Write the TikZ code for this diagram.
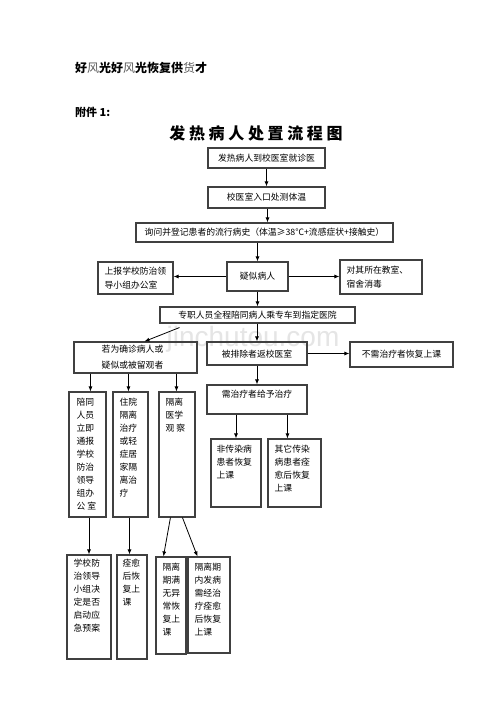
\documentclass[tikz,border=0pt]{standalone}
\usepackage{fontspec}
\newfontfamily\cjk{Noto Sans CJK SC}
\newfontfamily\wmfont{Liberation Sans}
\usetikzlibrary{arrows.meta,fit}
\newcommand\bx[5]{\path (#2,#3) coordinate (#1-nw) (#4,#5) coordinate (#1-se); \node[box,fit=(#1-nw)(#1-se)] (#1) {};}
\begin{document}
\begin{tikzpicture}[x=1pt,y=-1pt,
 box/.style={draw=black!75,line width=1.1pt,inner sep=0pt},
 arr/.style={draw=black,line width=0.8pt,-{Latex[length=5pt,width=4pt]}},
 txt/.style={font=\cjk\fontsize{8.8}{13}\selectfont,inner sep=0pt,align=left,anchor=north west},
 ctxt/.style={font=\cjk\fontsize{8.8}{16}\selectfont,inner sep=0pt,align=center},
 ltxt/.style={font=\cjk\fontsize{8.8}{14}\selectfont,inner sep=0pt,align=left,anchor=west}]
\useasboundingbox (0,0) rectangle (500,708);
\fill[white] (0,0) rectangle (500,708);
% watermark
\node[font=\wmfont\fontsize{28}{30}\selectfont,text=black!10,inner sep=0pt] (wm) at (253,339) {jinchutou.com};
% header
\node[font=\cjk\bfseries\fontsize{12}{14}\selectfont,anchor=west,inner sep=0pt] (hd) at (75,68) {好{\mdseries\color{black!65}风}光好{\mdseries\color{black!65}风}光恢复供{\mdseries\color{black!65}货}才};
\node[font=\cjk\bfseries\fontsize{11}{14}\selectfont,anchor=west,inner sep=0pt] (fj) at (75,112) {附件 1:};
\node[font=\cjk\bfseries\fontsize{16}{18}\selectfont,inner sep=0pt] (title) at (256,133) {发 热 病 人 处 置 流 程 图};
% boxes
\bx{b1}{208}{148}{325}{168}
\bx{b2}{208}{187}{325}{208}
\bx{b3}{136}{223}{393}{242}
\bx{ys}{227}{262}{288}{291}
\bx{rep}{98}{262}{173}{294}
\bx{xd}{340}{260}{422}{294}
\bx{zz}{160}{307}{355}{323}
\bx{ruo}{74}{342}{197}{373}
\bx{pc}{207}{342}{307}{365}
\bx{bx}{350}{342}{453}{367}
\bx{A}{69}{392}{106}{517}
\bx{B}{113}{392}{148}{517}
\bx{C}{159}{392}{195}{517}
\bx{xz}{207}{385}{307}{414}
\bx{D}{211}{439}{261}{507}
\bx{E}{268}{439}{321}{507}
\bx{F}{67}{555}{111}{659}
\bx{G}{117}{555}{147}{659}
\bx{H}{156}{557}{186}{654}
\bx{I}{188}{557}{230}{653}
% texts
\node[ctxt] (b1t) at (b1) {发热病人到校医室就诊医};
\node[ctxt] (b2t) at (b2) {校医室入口处测体温};
\node[ctxt] (b3t) at (b3) {询问并登记患者的流行病史（体温≥38℃+流感症状+接触史）};
\node[ctxt] (yst) at (ys) {疑似病人};
\node[ltxt] (rept) at ([xshift=7pt]rep.west) {上报学校防治领\\导小组办公室};
\node[ltxt] (xdt) at ([xshift=7pt]xd.west) {对其所在教室、\\宿舍消毒};
\node[ctxt] (zzt) at (zz) {专职人员全程陪同病人乘专车到指定医院};
\node[ctxt] (ruot) at ([xshift=-3pt]ruo) {若为确诊病人或\\疑似或被留观者};
\node[ctxt] (pct) at ([yshift=-1pt]pc) {被排除者返校医室};
\node[ctxt] (bxt) at (bx) {不需治疗者恢复上课};
\node[ctxt,anchor=north] (xzt) at ([yshift=-5pt]xz.north) {需治疗者给予治疗};
\node[txt] (At) at ([shift={(8,6)}]A.north west) {陪同\\人员\\立即\\通报\\学校\\防治\\领导\\组办\\公 室};
\node[txt] (Bt) at ([shift={(7,6)}]B.north west) {住院\\隔离\\治疗\\或轻\\症居\\家隔\\离治\\疗};
\node[txt] (Ct) at ([shift={(7,6)}]C.north west) {隔离\\医学\\观 察};
\node[txt] (Dt) at ([shift={(6,6)}]D.north west) {非传染病\\患者恢复\\上课};
\node[txt] (Et) at ([shift={(7,6)}]E.north west) {其它传染\\病患者痊\\愈后恢复\\上课};
\node[txt] (Ft) at ([shift={(7,4)}]F.north west) {学校防\\治领导\\小组决\\定是否\\启动应\\急预案};
\node[txt] (Gt) at ([shift={(6,4)}]G.north west) {痊愈\\后恢\\复上\\课};
\node[txt] (Ht) at ([shift={(7,6)}]H.north west) {隔离\\期满\\无异\\常恢\\复上\\课};
\node[txt] (It) at ([shift={(7,6)}]I.north west) {隔离期\\内发病\\需经治\\疗痊愈\\后恢复\\上课};
% connector helper coordinates
\path (b2.south) ++(1,0) coordinate (k1);
\path (A.north west) ++(22,0) coordinate (kA);
\path (B.north west) ++(16,0) coordinate (kB);
\path (C.north west) ++(18,0) coordinate (kC);
\path (E.north west) ++(20,0) coordinate (kE);
\path (zz.south west) ++(20,4) coordinate (kz1);
\path (ruo.north west) ++(71,0) coordinate (kz2);
\path (C.south west) ++(12,0) coordinate (kc1);
\path (H.north west) ++(8,0) coordinate (kh);
\path (C.south west) ++(24,0) coordinate (kc2);
\path (I.north west) ++(10,0) coordinate (ki);
\path (B.south) ++(-1,0) coordinate (kb0);
% connectors
\draw[arr] (b1) -- (b2);
\draw[arr] (k1) -- (k1 |- b3.north);
\draw[arr] (ys.north |- b3.south) -- (ys.north);
\draw[arr] (ys.west) -- (rep.east |- ys.west);
\draw[arr] (ys.east) -- (xd.west |- ys.east);
\draw[arr] (ys.south) -- (ys.south |- zz.north);
\draw[arr] (kz1) -- (kz2);
\draw[arr] (pc.north |- zz.south) -- (pc.north);
\draw[arr] (pc.east) -- (bx.west |- pc.east);
\draw[arr] (kA |- ruo.south) -- (kA);
\draw[arr] (kB |- ruo.south) -- (kB);
\draw[arr] (kC |- ruo.south) -- (kC);
\draw[arr] (pc) -- (xz);
\draw[arr] (D.north |- xz.south) -- (D.north);
\draw[arr] (kE |- xz.south) -- (kE);
\draw[arr] (F.north |- A.south) -- (F.north);
\draw[arr] (kb0) -- (kb0 |- G.north);
\draw[arr] (kc1) -- (kh);
\draw[arr] (kc2) -- (ki);
\end{tikzpicture}
\end{document}
